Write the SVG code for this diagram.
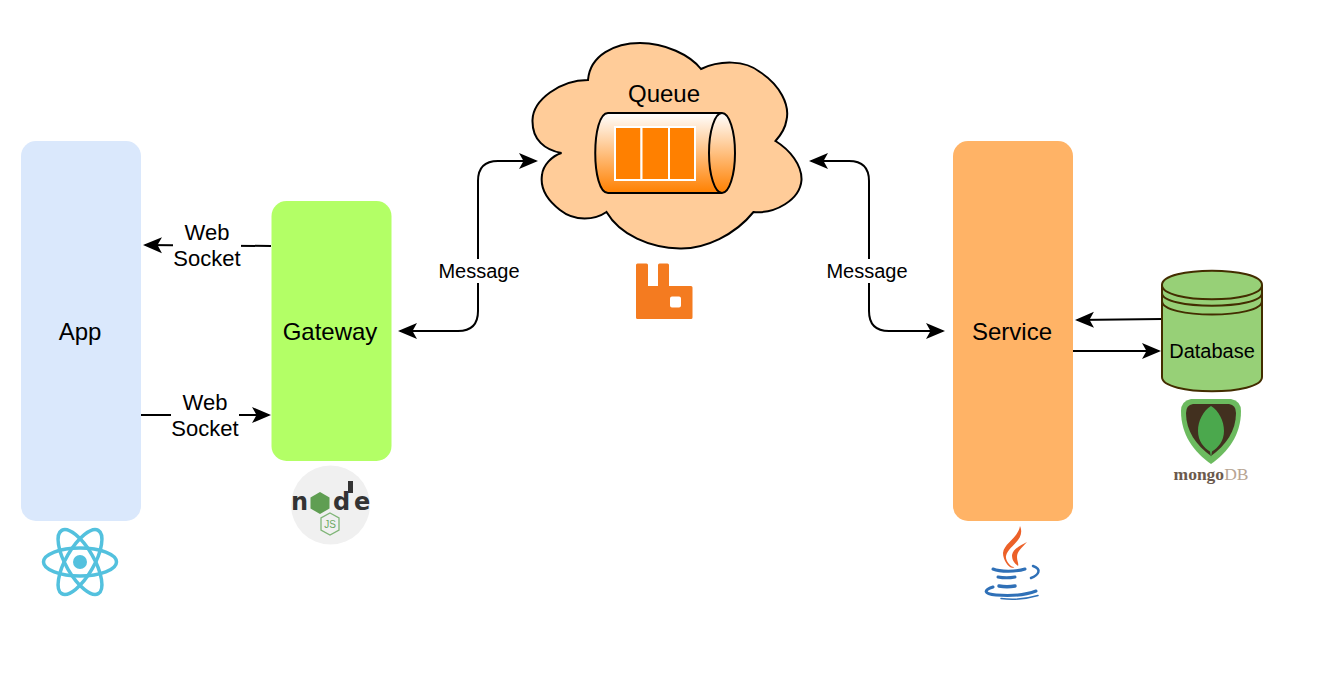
<svg xmlns="http://www.w3.org/2000/svg" width="1324" height="686" viewBox="0 0 1324 686">
<style>
text{font-family:"Liberation Sans",Arial,sans-serif;fill:#000;text-anchor:middle}
.n{font-size:24px}.l{font-size:22px}.m{font-size:20px}
.c{fill:none;stroke:#000;stroke-width:2}
</style>
<defs>
<marker id="a" markerUnits="userSpaceOnUse" markerWidth="24" markerHeight="20" refX="17" refY="9" orient="auto-start-reverse" viewBox="0 0 24 20">
<path d="M0 1L19 9L0 17L4.500 9Z" fill="#000"/>
</marker>
<linearGradient id="g" x1="0" y1="0" x2="0" y2="1"><stop offset="0" stop-color="#fff"/><stop offset="1" stop-color="#ff8000"/></linearGradient>
</defs>
<rect width="1324" height="686" fill="#fff"/>
<g id="connectors">
<path class="c" d="M271 246L145 245" marker-end="url(#a)"/>
<path class="c" d="M141 415H269" marker-end="url(#a)"/>
<path class="c" d="M400 331H458Q478 331 478 311V181Q478 161 498 161H536" marker-start="url(#a)" marker-end="url(#a)"/>
<path class="c" d="M811 161H849Q869 161 869 181V311Q869 331 889 331H943" marker-start="url(#a)" marker-end="url(#a)"/>
<path class="c" d="M1162 319L1077 320" marker-end="url(#a)"/>
<path class="c" d="M1073 351H1159" marker-end="url(#a)"/>
<g id="connector-labels">
<rect x="173" y="220" width="68" height="52" fill="#fff"/>
<text class="l" x="207" y="240">Web</text><text class="l" x="207" y="266">Socket</text>
<rect x="171" y="390" width="68" height="52" fill="#fff"/>
<text class="l" x="205" y="410">Web</text><text class="l" x="205" y="436">Socket</text>
<rect x="438" y="259" width="82" height="24" fill="#fff"/>
<text class="m" x="479" y="278">Message</text>
<rect x="826" y="259" width="82" height="24" fill="#fff"/>
<text class="m" x="867" y="278">Message</text>
</g>
</g>
<g id="app">
<rect x="21" y="141" width="120" height="380" rx="15" fill="#dae8fc"/>
<text class="n" x="80" y="340">App</text>
<g id="react-logo" fill="none" stroke="#53c1de" stroke-width="3.500">
<ellipse cx="80" cy="562" rx="36.500" ry="14"/>
<ellipse cx="80" cy="562" rx="36.500" ry="14" transform="rotate(60 80 562)"/>
<ellipse cx="80" cy="562" rx="36.500" ry="14" transform="rotate(120 80 562)"/>
<circle cx="80" cy="562" r="7" fill="#53c1de" stroke="none"/>
</g>
</g>
<g id="gateway">
<rect x="271.500" y="201" width="120" height="260" rx="15" fill="#b3ff66"/>
<text class="n" x="330" y="340">Gateway</text>
<g id="node-logo">
<circle cx="330.500" cy="505" r="39.500" fill="#f0f0f0"/>
<rect x="348" y="481" width="5" height="12" fill="#333"/>
<text x="291 333 354" y="510" font-size="24" font-weight="700" style="font-family:'DejaVu Sans',sans-serif;fill:#333;text-anchor:start">nde</text>
<polygon points="320,492 329.500,497.500 329.500,508.500 320,514 310.500,508.500 310.500,497.500" fill="#5f9e52"/>
<polygon points="330,513 339,518 339,530 330,535 321,530 321,518" fill="none" stroke="#7fb577" stroke-width="1.300"/>
<text x="330" y="528" font-size="10" style="fill:#6aa862">JS</text>
</g>
</g>
<g id="queue">
<path d="M588 80C590 55 615 43 640 43C665 43 690 55 701 69C720 60 745 60 760 72C780 85 790 105 786.500 120C785 130 780 136 775.500 141C790 150 802 165 801.500 180C800 200 775 214 753.500 212C735 235 705 249 680 248.500C650 248 620 235 606.500 212C595 220 575 222 560 210C547 200 540 188 542 175C543 165 552 156 561.500 153C545 150 532 140 532.500 120C533 100 560 80 588 80Z" fill="#ffcc99" stroke="#000" stroke-width="2"/>
<text class="n" x="664" y="102">Queue</text>
<path d="M722 113H608C591 113 591 193 608 193H722" fill="url(#g)" stroke="#000" stroke-width="2"/>
<ellipse cx="722" cy="153" rx="13" ry="40" fill="url(#g)" stroke="#000" stroke-width="2"/>
<g fill="#ff8000" stroke="#fff" stroke-width="2">
<rect x="615" y="127" width="26.500" height="53"/>
<rect x="641.500" y="127" width="27.500" height="53"/>
<rect x="669" y="127" width="26" height="53"/>
</g>
<path id="rabbitmq-logo" fill="#f47b20" fill-rule="evenodd" d="M637.500 263.500H646.500Q648 263.500 648 265V286H658V265Q658 263.500 659.500 263.500H667.500Q669 263.500 669 265V286H691Q692.500 286 692.500 287.500V317.500Q692.500 319 691 319H637.500Q636 319 636 317.500V265Q636 263.500 637.500 263.500ZM672 296.500Q670 296.500 670 298.500V305.500Q670 307.500 672 307.500H679Q681 307.500 681 305.500V298.500Q681 296.500 679 296.500Z"/>
</g>
<g id="service">
<rect x="953" y="141" width="120" height="380" rx="15" fill="#ffb366"/>
<text class="n" x="1012" y="340">Service</text>
<g id="java-logo">
<path d="M1020 526C1026 540 1008 546 1006 556C1005 562 1014 570 1015 566C1012 572 1003 562 1003 553C1004 543 1018 538 1020 526Z" fill="#ec6129"/>
<path d="M1027 542C1022 548 1017 551 1017 557C1017 561 1019 564 1018 566C1014 563 1012 560 1012 555C1013 549 1021 545 1027 542Z" fill="#ec6129"/>
<g fill="none" stroke="#2f70b7" stroke-linecap="round">
<path d="M993 569C1000 572 1016 572 1025 569" stroke-width="3"/>
<path d="M1033 566C1042 569 1039 575 1031 578" stroke-width="2.500"/>
<path d="M998 577C1003 578 1010 578 1015 577" stroke-width="3"/>
<path d="M999 586C1004 587 1010 587 1015 586" stroke-width="3.500"/>
<path d="M993 587C983 590 984 594 996 595C1010 596 1026 595 1036 591" stroke-width="3"/>
<path d="M1001 598.500C1012 600 1026 599 1038 595.500" stroke-width="1.500"/>
</g>
</g>
</g>
<g id="database">
<path d="M1162 285C1162 266 1262 266 1262 285V377C1262 396 1162 396 1162 377Z" fill="#97d077" stroke="#432d00" stroke-width="2"/>
<path d="M1162 285C1162 304 1262 304 1262 285M1162 293C1162 310 1262 310 1262 293M1162 301C1162 319 1262 319 1262 301" fill="none" stroke="#432d00" stroke-width="2"/>
<text class="m" x="1212" y="358">Database</text>
<g id="mongodb-logo">
<path d="M1191 399H1231Q1241 401 1241 411C1241 435 1228 452 1211 464C1194 452 1181 435 1181 411Q1181 401 1191 399Z" fill="#6cbb5f"/>
<path d="M1193 404H1229Q1236 405 1236 413C1236 431 1226 445 1211 456C1196 445 1186 431 1186 413Q1186 405 1193 404Z" fill="#42301f"/>
<path d="M1211 406C1219 411 1224 421 1224 431C1224 441 1218 448 1212 451.500L1211 458L1210 451.500C1204 448 1198 441 1198 431C1198 421 1203 411 1211 406Z" fill="#4ba84d"/>
<text x="1211" y="480" font-size="17.500" style="font-family:'Liberation Serif',serif;fill:#6b5a4c;font-weight:700">mongo<tspan style="fill:#b8a594;font-weight:400">DB</tspan></text>
</g>
</g>
</svg>
